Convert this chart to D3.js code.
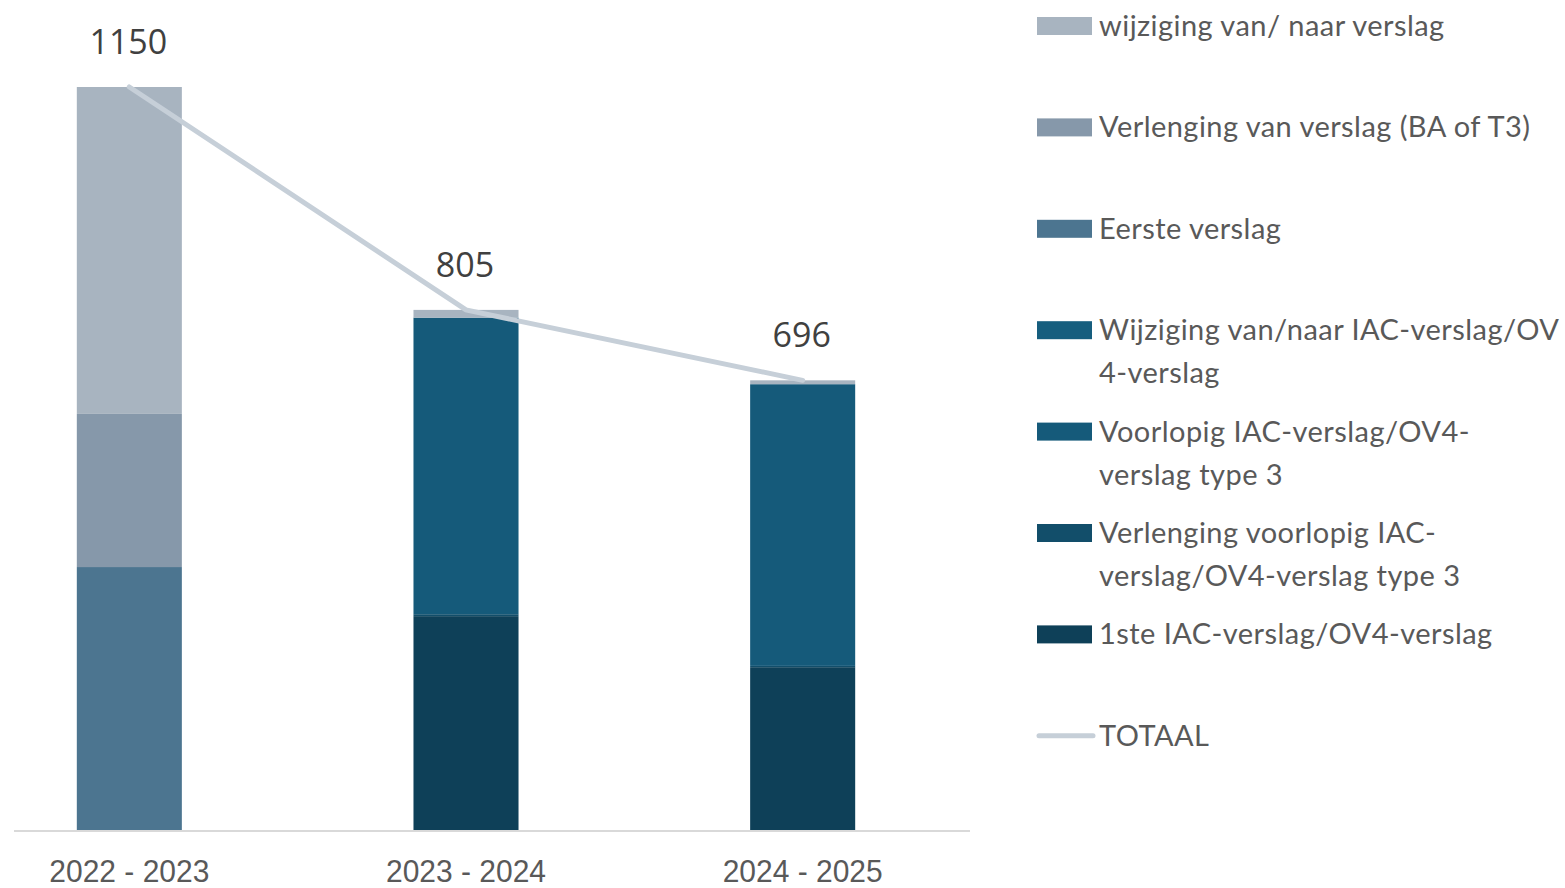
<!DOCTYPE html>
<html>
<head>
<meta charset="utf-8">
<script src="https://cdn.jsdelivr.net/npm/d3@7"></script>
<style>
  html, body { margin: 0; padding: 0; background: #fff; }
  svg { display: block; }
</style>
</head>
<body>
<div id="chart"></div>
<script>
const WIDTH = 1565
const HEIGHT = 888

// data
const years = ['2022 - 2023', '2023 - 2024', '2024 - 2025']
const totals = [1150, 805, 696]
// stack order bottom -> top
const seriesNames = [
  '1ste IAC-verslag/OV4-verslag',
  'Verlenging voorlopig IAC-verslag/OV4-verslag  type 3',
  'Voorlopig IAC-verslag/OV4-verslag type 3',
  'Wijziging van/naar IAC-verslag/OV 4-verslag',
  'Eerste verslag',
  'Verlenging van verslag (BA of T3)',
  'wijziging van/ naar verslag'
]
const eersteIac = [0, 331, 252]
const verlengingVoorlopig = [0, 3, 2]
const voorlopigIac = [0, 459, 436]
const wijzigingIac = [0, 0, 0]
const eersteVerslag = [407, 0, 0]
const verlengingVerslag = [237, 0, 0]
const wijzigingVerslag = [506, 12, 6]
const seriesValues = [eersteIac, verlengingVoorlopig, voorlopigIac, wijzigingIac,
  eersteVerslag, verlengingVerslag, wijzigingVerslag]
const colors = ['#0e4058', '#124e6a', '#155a7a', '#165e7e', '#4c7590', '#8698aa', '#a8b4c0']

// legend, top -> bottom, wrapped lines
const legendLines = [
  ['wijziging van/ naar verslag'],
  ['Verlenging van verslag (BA of T3)'],
  ['Eerste verslag'],
  ['Wijziging van/naar IAC-verslag/OV', '4-verslag'],
  ['Voorlopig IAC-verslag/OV4-', 'verslag type 3'],
  ['Verlenging voorlopig IAC-', 'verslag/OV4-verslag  type 3'],
  ['1ste IAC-verslag/OV4-verslag'],
  ['TOTAAL']
]

const LINE_COLOR = '#c6cfd8'
const TEXT_COLOR = '#595959'
const BASE_Y = 830

const svg = d3.select('#chart').append('svg')
  .attr('width', WIDTH).attr('height', HEIGHT)

const x = d3.scaleBand().domain(years).range([-39, 971])
  .paddingInner(0.688).paddingOuter(0.344)
const y = d3.scaleLinear().domain([0, 1150]).range([BASE_Y, 87])

// stacked data
const table = years.map((yr, i) => {
  const row = { year: yr }
  seriesNames.forEach((s, k) => { row[s] = seriesValues[k][i] })
  return row
})
const stacked = d3.stack().keys(seriesNames)(table)

const layers = svg.append('g').selectAll('g').data(stacked).enter()
  .append('g').attr('fill', (d, i) => colors[i])

layers.selectAll('rect').data(d => d.filter(p => p[1] > p[0])).enter()
  .append('rect')
  .attr('x', d => x(d.data.year))
  .attr('width', x.bandwidth())
  .attr('y', d => y(d[1]))
  .attr('height', d => y(d[0]) - y(d[1]))

// baseline
svg.append('line')
  .attr('x1', 14).attr('x2', 970)
  .attr('y1', BASE_Y + 1).attr('y2', BASE_Y + 1)
  .attr('stroke', '#d9d9d9').attr('stroke-width', 2)

// category axis
const axis = d3.axisBottom(x).tickSize(0).tickPadding(28)
const axisEl = svg.append('g').attr('transform', `translate(0, ${BASE_Y + 2})`).call(axis)
axisEl.select('.domain').remove()
axisEl.selectAll('.tick text')
  .attr('font-family', '"Liberation Sans", sans-serif')
  .attr('font-size', 31)
  .attr('fill', TEXT_COLOR)
  .attr('textLength', 160)
  .attr('lengthAdjust', 'spacingAndGlyphs')

// total line
const line = d3.line()
  .x((d, i) => x(years[i]) + x.bandwidth() / 2)
  .y(d => y(d))
svg.append('path')
  .datum(totals)
  .attr('d', line)
  .attr('fill', 'none')
  .attr('stroke', LINE_COLOR)
  .attr('stroke-width', 5)
  .attr('stroke-linecap', 'round')

// total labels
svg.append('g').selectAll('text').data(totals).enter()
  .append('text')
  .attr('x', (d, i) => x(years[i]) + x.bandwidth() / 2 - 1)
  .attr('y', d => y(d) - 33)
  .attr('text-anchor', 'middle')
  .attr('font-family', '"Open Sans", sans-serif')
  .attr('font-size', 34)
  .attr('fill', '#404040')
  .text(d => d)

// legend
const legendColors = colors.slice().reverse()
const legend = svg.append('g').attr('transform', 'translate(1037, 26)')
const items = legend.selectAll('g').data(legendLines).enter()
  .append('g')
  .attr('transform', (d, i) => `translate(0, ${i * 101.4})`)

items.each(function(d, i) {
  const g = d3.select(this)
  if (i < legendColors.length) {
    g.append('rect')
      .attr('x', 0).attr('y', -9)
      .attr('width', 55).attr('height', 18)
      .attr('fill', legendColors[i])
  } else {
    g.append('line')
      .attr('x1', 2).attr('x2', 56)
      .attr('y1', 0).attr('y2', 0)
      .attr('stroke', LINE_COLOR)
      .attr('stroke-width', 5)
      .attr('stroke-linecap', 'round')
  }
  const t = g.append('text')
    .attr('font-family', 'Lato, sans-serif')
    .attr('font-size', 29)
    .attr('letter-spacing', 0.45)
    .attr('fill', TEXT_COLOR)
  d.forEach((s, k) => {
    t.append('tspan').attr('x', 62).attr('y', 10 + k * 43).text(s)
  })
})
</script>
</body>
</html>
